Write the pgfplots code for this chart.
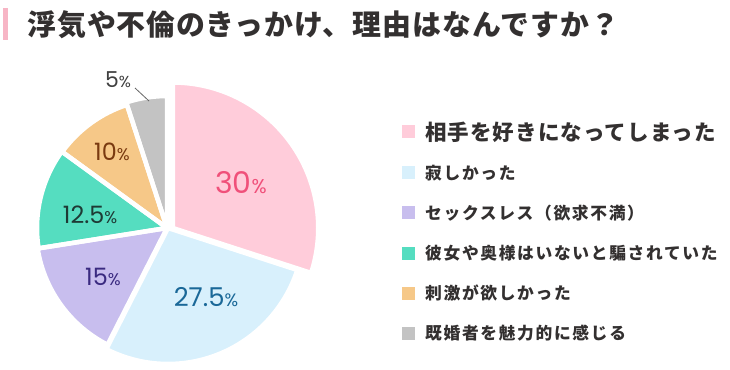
\documentclass[border=0pt]{standalone}
\usepackage{pgfplots}
\pgfplotsset{compat=1.18}
\usepackage{pgfplotstable}
\usepackage{fontspec}
\setmainfont{Noto Sans CJK JP}
\newfontfamily\jpt[LetterSpace=3.5]{Noto Sans CJK JP}
\newfontfamily\jpl[LetterSpace=10]{Noto Sans CJK JP}
\newfontfamily\jpf[LetterSpace=5]{Noto Sans CJK JP}
\newfontfamily\num{Poppins}
\definecolor{c0}{HTML}{FFCCDA}
\definecolor{c1}{HTML}{D8F0FC}
\definecolor{c2}{HTML}{C8BEEE}
\definecolor{c3}{HTML}{55DDC0}
\definecolor{c4}{HTML}{F6C888}
\definecolor{c5}{HTML}{C3C3C3}
\definecolor{t0}{HTML}{F0507A}
\definecolor{t1}{HTML}{1A6898}
\definecolor{t2}{HTML}{3A2A80}
\definecolor{t3}{HTML}{1E3A35}
\definecolor{t4}{HTML}{7A3A10}
\definecolor{t5}{HTML}{404040}
\definecolor{titlebar}{HTML}{F7B5C5}
\definecolor{txt}{HTML}{333030}
% value (%), slice centre x, y and radius (in px of the picture)
\pgfplotstableread{
value cx cy r
30 172.75 141 145.5
27.5 168 141 136
15 167 141 131
12.5 167 141 130
10 167 141 129.5
5 167 141 132
}\piedata
\begin{document}
\begin{tikzpicture}
\begin{axis}[x=1bp, y=1bp, xmin=0, xmax=730, ymin=0, ymax=369,
  hide axis, clip=false, scale only axis]
\fill[white] (axis cs:0,0) rectangle (axis cs:730,369);
% slices: fills
\def\angA{90}
\pgfplotsforeachungrouped \i in {0,...,5}{%
  \pgfplotstablegetelem{\i}{value}\of\piedata \let\v\pgfplotsretval
  \pgfplotstablegetelem{\i}{cx}\of\piedata \let\cx\pgfplotsretval
  \pgfplotstablegetelem{\i}{cy}\of\piedata \let\cy\pgfplotsretval
  \pgfplotstablegetelem{\i}{r}\of\piedata \let\rr\pgfplotsretval
  \pgfmathsetmacro\angB{\angA-3.6*\v}%
  \edef\cmd{\noexpand\fill[c\i] (axis cs:\cx,\cy) -- ++(\angA:\rr bp) arc[start angle=\angA, end angle=\angB, radius=\rr bp] -- cycle;}%
  \cmd
  \global\let\angA\angB
}
% slices: white gaps
\def\angA{90}
\pgfplotsforeachungrouped \i in {0,...,5}{%
  \pgfplotstablegetelem{\i}{value}\of\piedata \let\v\pgfplotsretval
  \pgfplotstablegetelem{\i}{cx}\of\piedata \let\cx\pgfplotsretval
  \pgfplotstablegetelem{\i}{cy}\of\piedata \let\cy\pgfplotsretval
  \pgfplotstablegetelem{\i}{r}\of\piedata \let\rr\pgfplotsretval
  \pgfmathsetmacro\angB{\angA-3.6*\v}%
  \edef\cmd{\noexpand\draw[white, line width=4.5bp, line join=round] (axis cs:\cx,\cy) -- ++(\angA:\rr bp) arc[start angle=\angA, end angle=\angB, radius=\rr bp] -- cycle;}%
  \cmd
  \global\let\angA\angB
}
% value labels
\node[inner sep=0pt, text=t0, font=\num\fontsize{30}{30}\selectfont] at (axis cs:241,186) {30{\fontsize{20}{20}\selectfont\%}};
\node[inner sep=0pt, text=t1, font=\num\fontsize{26}{26}\selectfont] at (axis cs:206,72) {27.5{\fontsize{18}{18}\selectfont\%}};
\node[inner sep=0pt, text=t2, font=\num\fontsize{24}{24}\selectfont] at (axis cs:103,92) {15{\fontsize{17}{17}\selectfont\%}};
\node[inner sep=0pt, text=t3, font=\num\fontsize{24}{24}\selectfont] at (axis cs:90,154) {12.5{\fontsize{17}{17}\selectfont\%}};
\node[inner sep=0pt, text=t4, font=\num\fontsize{24}{24}\selectfont] at (axis cs:112,217) {10{\fontsize{17}{17}\selectfont\%}};
\node[inner sep=0pt, text=t5, font=\num\fontsize{22}{22}\selectfont] at (axis cs:118,289) {5{\fontsize{16}{16}\selectfont\%}};
\draw[gray!80!black, line width=0.8bp] (axis cs:135,281) -- (axis cs:149,268);
% title
\fill[titlebar] (axis cs:3,329) rectangle (axis cs:8,361);
\node[anchor=west, inner sep=0pt, text=txt, font=\jpt\bfseries\fontsize{29}{29}\selectfont] at (axis cs:27,344) {浮気や不倫のきっかけ、理由はなんですか？};
% legend
\fill[c0] (axis cs:402,230.5) rectangle (axis cs:415,243.5);
\node[anchor=west, inner sep=0pt, text=txt, font=\jpf\bfseries\fontsize{21.6}{21.6}\selectfont] at (axis cs:425,237) {相手を好きになってしまった};
\fill[c1] (axis cs:402,189.5) rectangle (axis cs:415,202.5);
\node[anchor=west, inner sep=0pt, text=txt, font=\jpl\bfseries\fontsize{16.8}{16.8}\selectfont] at (axis cs:425,196) {寂しかった};
\fill[c2] (axis cs:402,149.5) rectangle (axis cs:415,162.5);
\node[anchor=west, inner sep=0pt, text=txt, font=\jpl\bfseries\fontsize{16.8}{16.8}\selectfont] at (axis cs:425,156) {セックスレス（欲求不満）};
\fill[c3] (axis cs:402,109.5) rectangle (axis cs:415,122.5);
\node[anchor=west, inner sep=0pt, text=txt, font=\jpl\bfseries\fontsize{16.8}{16.8}\selectfont] at (axis cs:425,116) {彼女や奥様はいないと騙されていた};
\fill[c4] (axis cs:402,69.5) rectangle (axis cs:415,82.5);
\node[anchor=west, inner sep=0pt, text=txt, font=\jpl\bfseries\fontsize{16.8}{16.8}\selectfont] at (axis cs:425,76) {刺激が欲しかった};
\fill[c5] (axis cs:402,29.5) rectangle (axis cs:415,42.5);
\node[anchor=west, inner sep=0pt, text=txt, font=\jpl\bfseries\fontsize{16.8}{16.8}\selectfont] at (axis cs:425,36) {既婚者を魅力的に感じる};
\end{axis}
\end{tikzpicture}
\end{document}
